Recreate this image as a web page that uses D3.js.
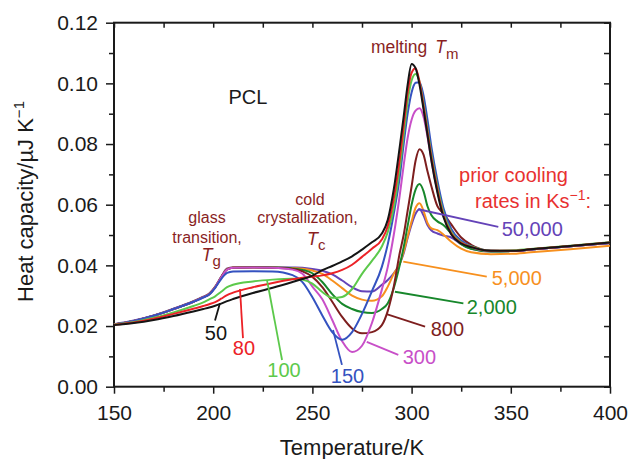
<!DOCTYPE html>
<html>
<head>
<meta charset="utf-8">
<script src="https://cdn.jsdelivr.net/npm/d3@7"></script>
<style>
  body { margin: 0; background: #fff; }
  svg { font-family: "Liberation Sans", Arial, Helvetica, sans-serif; }
</style>
</head>
<body>
<div id="chart"></div>
<script>
// temperatures (K) shared by every curve
var temps = [150, 160, 170, 180, 190, 195, 198, 201, 204, 207,
             210, 220, 230, 240, 245, 250, 255, 260, 265, 270,
             275, 280, 285, 288, 291, 294, 296, 298, 300, 302,
             304, 306, 308, 310, 313, 316, 320, 325, 330, 340,
             350, 360, 380, 400];

// heat capacity (uJ/K) for each prior cooling rate
var rate50 = [0.0203, 0.0210, 0.0220, 0.0233, 0.0248, 0.0256, 0.0261, 0.0267, 0.0274, 0.0282,
              0.0289, 0.0309, 0.0326, 0.0345, 0.0355, 0.0366, 0.0384, 0.0398, 0.0413, 0.0430,
              0.0452, 0.0476, 0.0505, 0.0550, 0.0650, 0.0790, 0.0890, 0.0995, 0.1064, 0.1050,
              0.0995, 0.0915, 0.0830, 0.0745, 0.0640, 0.0560, 0.0502, 0.0472, 0.0460, 0.0448,
              0.0448, 0.0453, 0.0464, 0.0475];
var rate80 = [0.0204, 0.0212, 0.0224, 0.0240, 0.0257, 0.0266, 0.0272, 0.0279, 0.0290, 0.0302,
              0.0310, 0.0328, 0.0342, 0.0354, 0.0359, 0.0363, 0.0367, 0.0374, 0.0385, 0.0402,
              0.0428, 0.0455, 0.0485, 0.0530, 0.0620, 0.0750, 0.0860, 0.0970, 0.1035, 0.1050,
              0.1005, 0.0925, 0.0840, 0.0755, 0.0650, 0.0565, 0.0505, 0.0474, 0.0461, 0.0448,
              0.0448, 0.0453, 0.0464, 0.0475];
var rate100 = [0.0205, 0.0213, 0.0227, 0.0245, 0.0266, 0.0278, 0.0288, 0.0298, 0.0313, 0.0328,
               0.0336, 0.0347, 0.0353, 0.0356, 0.0353, 0.0340, 0.0312, 0.0293, 0.0296, 0.0322,
               0.0372, 0.0415, 0.0462, 0.0510, 0.0590, 0.0720, 0.0830, 0.0940, 0.1010, 0.1031,
               0.1005, 0.0935, 0.0850, 0.0765, 0.0660, 0.0575, 0.0510, 0.0476, 0.0462, 0.0448,
               0.0449, 0.0454, 0.0465, 0.0476];
var rate150 = [0.0205, 0.0217, 0.0234, 0.0256, 0.0280, 0.0294, 0.0304, 0.0326, 0.0355, 0.0375,
               0.0380, 0.0381, 0.0380, 0.0368, 0.0345, 0.0295, 0.0235, 0.0180, 0.0155, 0.0180,
               0.0240, 0.0315, 0.0395, 0.0470, 0.0570, 0.0690, 0.0800, 0.0900, 0.0970, 0.1002,
               0.1004, 0.0960, 0.0880, 0.0790, 0.0680, 0.0590, 0.0520, 0.0482, 0.0463, 0.0448,
               0.0447, 0.0452, 0.0463, 0.0474];
var rate300 = [0.0205, 0.0217, 0.0234, 0.0256, 0.0280, 0.0295, 0.0305, 0.0328, 0.0360, 0.0386,
               0.0392, 0.0393, 0.0392, 0.0386, 0.0372, 0.0330, 0.0288, 0.0220, 0.0150, 0.0114,
               0.0135, 0.0210, 0.0320, 0.0395, 0.0500, 0.0630, 0.0730, 0.0820, 0.0880, 0.0910,
               0.0918, 0.0890, 0.0825, 0.0745, 0.0645, 0.0572, 0.0515, 0.0478, 0.0461, 0.0447,
               0.0447, 0.0452, 0.0463, 0.0474];
var rate800 = [0.0205, 0.0217, 0.0234, 0.0256, 0.0280, 0.0295, 0.0305, 0.0328, 0.0360, 0.0387,
               0.0392, 0.0393, 0.0392, 0.0388, 0.0380, 0.0362, 0.0328, 0.0280, 0.0230, 0.0192,
               0.0176, 0.0180, 0.0203, 0.0250, 0.0330, 0.0440, 0.0500, 0.0580, 0.0660, 0.0745,
               0.0783, 0.0765, 0.0710, 0.0660, 0.0595, 0.0572, 0.0535, 0.0492, 0.0468, 0.0448,
               0.0447, 0.0452, 0.0463, 0.0474];
var rate2000 = [0.0205, 0.0217, 0.0234, 0.0256, 0.0280, 0.0295, 0.0305, 0.0328, 0.0360, 0.0387,
                0.0392, 0.0394, 0.0393, 0.0390, 0.0385, 0.0374, 0.0345, 0.0305, 0.0273, 0.0256,
                0.0246, 0.0243, 0.0256, 0.0275, 0.0325, 0.0400, 0.0460, 0.0530, 0.0600, 0.0650,
                0.0668, 0.0645, 0.0595, 0.0565, 0.0545, 0.0533, 0.0505, 0.0470, 0.0455, 0.0446,
                0.0447, 0.0452, 0.0463, 0.0474];
var rate5000 = [0.0205, 0.0217, 0.0234, 0.0256, 0.0281, 0.0296, 0.0306, 0.0329, 0.0361, 0.0388,
                0.0393, 0.0394, 0.0393, 0.0391, 0.0389, 0.0383, 0.0372, 0.0350, 0.0325, 0.0300,
                0.0287, 0.0283, 0.0298, 0.0330, 0.0372, 0.0405, 0.0445, 0.0495, 0.0545, 0.0590,
                0.0605, 0.0580, 0.0540, 0.0522, 0.0516, 0.0502, 0.0478, 0.0455, 0.0443, 0.0437,
                0.0438, 0.0443, 0.0453, 0.0465];
var rate50000 = [0.0206, 0.0218, 0.0235, 0.0257, 0.0282, 0.0297, 0.0307, 0.0330, 0.0362, 0.0390,
                 0.0394, 0.0395, 0.0394, 0.0393, 0.0392, 0.0388, 0.0382, 0.0370, 0.0350, 0.0328,
                 0.0315, 0.0314, 0.0336, 0.0352, 0.0374, 0.0405, 0.0440, 0.0490, 0.0535, 0.0570,
                 0.0585, 0.0565, 0.0533, 0.0515, 0.0505, 0.0498, 0.0492, 0.0470, 0.0455, 0.0446,
                 0.0447, 0.0452, 0.0463, 0.0474];

var seriesNames = ["50", "80", "100", "150", "300", "800", "2,000", "5,000", "50,000"];
var seriesValues = [rate50, rate80, rate100, rate150, rate300, rate800, rate2000, rate5000, rate50000];
var seriesColors = ["#151515", "#ec2227", "#5cc94b", "#3452c0", "#c84fc8", "#7d1e1e", "#17872b", "#f7901e", "#6443b8"];

// label anchor (T, Cp) and leader line ends, in data units
var labelPos = [[201.4, 0.0179], [215.5, 0.0128], [235.7, 0.0055], [267.7, 0.0035], [295.5, 0.0097],
                [309.6, 0.0190], [327.8, 0.0264], [340.4, 0.0359], [345.4, 0.0522]];
var labelAnchor = ["middle", "middle", "middle", "middle", "start", "start", "start", "start", "start"];
var leaders = [[[203.4, 0.0275], [200.9, 0.0218]],
               [[213.5, 0.0322], [215.0, 0.0160]],
               [[227.1, 0.0352], [234.7, 0.0088]],
               [[260.4, 0.0187], [264.9, 0.0072]],
               [[277.4, 0.0148], [293.3, 0.0105]],
               [[287.4, 0.0239], [306.8, 0.0198]],
               [[291.6, 0.0313], [326.1, 0.0275]],
               [[295.8, 0.0412], [337.9, 0.0363]],
               [[303.4, 0.0585], [343.7, 0.0527]]];

var xMajor = [150, 200, 250, 300, 350, 400];
var xMinor = [175, 225, 275, 325, 375];
var yMajor = [0, 0.02, 0.04, 0.06, 0.08, 0.10, 0.12];
var yMinor = [0.01, 0.03, 0.05, 0.07, 0.09, 0.11];

var margin = { top: 22.7, right: 20, bottom: 72.3, left: 114 },
    width = 630 - margin.left - margin.right,
    height = 459 - margin.top - margin.bottom;

var x = d3.scaleLinear().domain([150, 400]).range([0, width]);
var y = d3.scaleLinear().domain([0, 0.12]).range([height, 0]);

var svg = d3.select("#chart").append("svg")
    .attr("width", 630)
    .attr("height", 459);
var chart = svg.append("g")
    .attr("transform", "translate(" + margin.left + "," + margin.top + ")");

function styleAxis(g) {
    g.select(".domain").remove();
    g.selectAll(".tick line").attr("stroke", "#1a1a1a").attr("stroke-width", 1.5);
    g.selectAll(".tick text").attr("fill", "#1a1a1a").style("font-size", "21px")
        .style("font-family", '"Liberation Sans", Arial, sans-serif');
}

// bottom axis, outward ticks
chart.append("g")
    .attr("transform", "translate(0," + height + ")")
    .call(d3.axisBottom(x).tickValues(xMajor).tickSize(7).tickPadding(11).tickFormat(d3.format("d")))
    .call(styleAxis);
chart.append("g")
    .attr("transform", "translate(0," + height + ")")
    .call(d3.axisBottom(x).tickValues(xMinor).tickSize(5).tickFormat(""))
    .call(styleAxis);

// left axis, outward ticks
chart.append("g")
    .call(d3.axisLeft(y).tickValues(yMajor).tickSize(8).tickPadding(8).tickFormat(d3.format(".2f")))
    .call(styleAxis);
chart.append("g")
    .call(d3.axisLeft(y).tickValues(yMinor).tickSize(5).tickFormat(""))
    .call(styleAxis);

// top and right axes, inward ticks
chart.append("g")
    .call(d3.axisTop(x).tickValues(xMajor.concat(xMinor)).tickSize(-5).tickFormat(""))
    .call(styleAxis);
chart.append("g")
    .attr("transform", "translate(" + width + ",0)")
    .call(d3.axisRight(y).tickValues(yMajor.concat(yMinor)).tickSize(-6).tickFormat(""))
    .call(styleAxis);

// frame
chart.append("rect")
    .attr("width", width)
    .attr("height", height)
    .attr("fill", "none")
    .attr("stroke", "#1a1a1a")
    .attr("stroke-width", 2);

// curves
var line = d3.line()
    .x(function (d) { return x(d[0]); })
    .y(function (d) { return y(d[1]); })
    .curve(d3.curveMonotoneX);

var drawOrder = [8, 7, 6, 5, 4, 3, 2, 1, 0];
drawOrder.forEach(function (i) {
    chart.append("path")
        .datum(temps.map(function (t, j) { return [t, seriesValues[i][j]]; }))
        .attr("fill", "none")
        .attr("stroke", seriesColors[i])
        .attr("stroke-width", 2)
        .attr("stroke-linejoin", "round")
        .attr("d", line);
});

// leader lines and rate labels
seriesNames.forEach(function (name, i) {
    chart.append("line")
        .attr("x1", x(leaders[i][0][0])).attr("y1", y(leaders[i][0][1]))
        .attr("x2", x(leaders[i][1][0])).attr("y2", y(leaders[i][1][1]))
        .attr("stroke", seriesColors[i])
        .attr("stroke-width", 1.8);
    chart.append("text")
        .attr("x", x(labelPos[i][0]))
        .attr("y", y(labelPos[i][1]))
        .attr("dy", "0.36em")
        .attr("text-anchor", labelAnchor[i])
        .style("font-size", "20px")
        .style("fill", seriesColors[i])
        .text(name);
});

// annotations
var darkRed = "#8a1f1f";

chart.append("text")
    .attr("x", x(217.5)).attr("y", y(0.0955)).attr("dy", "0.36em")
    .attr("text-anchor", "middle")
    .style("font-size", "20px").style("fill", "#1a1a1a")
    .text("PCL");

var melt = chart.append("text")
    .attr("x", x(279.5)).attr("y", y(0.1099))
    .style("font-size", "17.5px").style("fill", darkRed);
melt.append("tspan").text("melting");
melt.append("tspan").attr("dx", 8).style("font-style", "italic").text("T");
melt.append("tspan").attr("dy", 6).style("font-size", "15px").text("m");

var glass = chart.append("g").style("font-size", "16px").style("fill", darkRed)
    .attr("text-anchor", "middle");
glass.append("text").attr("x", x(196.9)).attr("y", y(0.0539)).text("glass");
glass.append("text").attr("x", x(196.9)).attr("y", y(0.0473)).text("transition,");
var tg = glass.append("text").attr("x", x(199)).attr("y", y(0.0413));
tg.append("tspan").style("font-style", "italic").style("font-size", "18px").text("T");
tg.append("tspan").attr("dy", 5).style("font-size", "15px").text("g");

var cold = chart.append("g").style("font-size", "16px").style("fill", darkRed)
    .attr("text-anchor", "middle");
cold.append("text").attr("x", x(248.8)).attr("y", y(0.0599)).text("cold");
cold.append("text").attr("x", x(247.5)).attr("y", y(0.0539)).text("crystallization,");
var tc = cold.append("text").attr("x", x(252)).attr("y", y(0.0466));
tc.append("tspan").style("font-style", "italic").style("font-size", "18px").text("T");
tc.append("tspan").attr("dy", 5).style("font-size", "15px").text("c");

var prior = chart.append("g").style("font-size", "20px").style("fill", "#e8312f");
prior.append("text").attr("x", x(323.9)).attr("y", y(0.0676)).text("prior cooling");
var rates = prior.append("text").attr("x", x(332)).attr("y", y(0.0588));
rates.append("tspan").text("rates in Ks");
rates.append("tspan").attr("dy", -8).style("font-size", "14px").text("\u22121");
rates.append("tspan").attr("dy", 8).text(":");

// axis titles
svg.append("text")
    .attr("x", 352).attr("y", 455)
    .attr("text-anchor", "middle")
    .style("font-size", "22px").style("fill", "#1a1a1a")
    .text("Temperature/K");

var ytitle = svg.append("text")
    .attr("transform", "translate(33,201.5) rotate(-90)")
    .attr("text-anchor", "middle")
    .style("font-size", "22px").style("fill", "#1a1a1a");
ytitle.append("tspan").text("Heat capacity/\u00b5J K");
ytitle.append("tspan").attr("dy", -9).style("font-size", "15px").text("\u22121");
</script>
</body>
</html>
